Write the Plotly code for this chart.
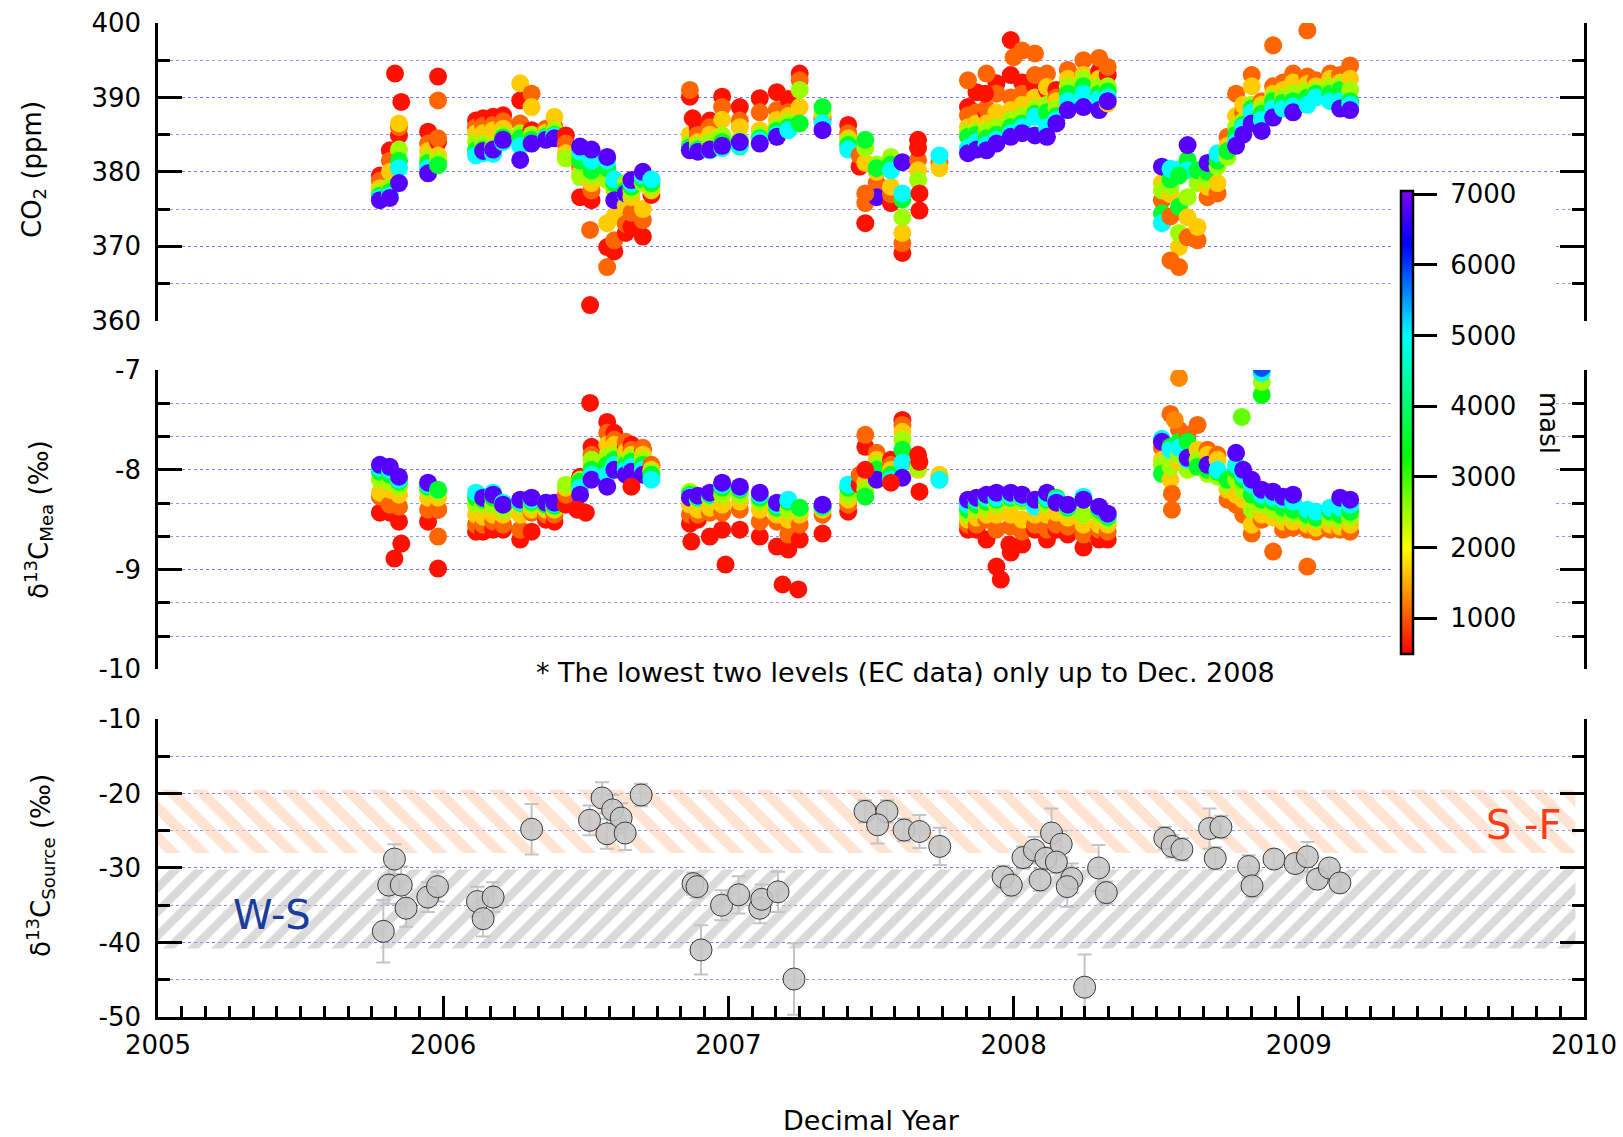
import plotly.graph_objects as go

# ---------------- data ----------------
LEVELS = [600, 1100, 1700, 2500, 3600, 5000, 6800]   # masl of the profile levels

# campaign a (autumn 2005 - summer 2006)
dates_a = [2005.778, 2005.813, 2005.845, 2005.947, 2005.982, 2006.115, 2006.140, 2006.175,
           2006.210, 2006.270, 2006.310, 2006.360, 2006.390, 2006.430, 2006.480, 2006.520,
           2006.575, 2006.600, 2006.640, 2006.660, 2006.700, 2006.730]
co2_a = [
    [379.5, 378.8, 377.8, 377.2, 376.8, 376.5, 376.2],
    [382.9, 381.5, 380.0, 378.0, 377.3, 376.8, 376.5],
    [384.9, 386.0, 386.5, 383.0, 381.5, 380.5, 378.5],
    [385.4, 383.8, 382.8, 381.8, 381.2, 380.5, 379.8],
    [384.0, 384.5, 382.2, 381.5, 380.9, None, None],
    [386.9, 386.0, 385.2, 384.0, 382.9, 382.2, None],
    [387.2, 386.2, 385.2, 383.8, 383.0, 382.5, 382.8],
    [387.4, 386.3, 385.6, 383.4, 383.0, 382.4, 383.0],
    [387.6, 386.8, 385.8, 385.0, 384.6, 384.0, 384.3],
    [389.6, 386.5, 391.9, 385.2, 384.5, 383.5, 381.6],
    [385.6, 390.5, 388.7, 385.0, 384.3, 383.8, 383.8],
    [385.6, 385.8, 385.3, 385.0, 384.7, 384.5, 384.3],
    [385.4, 386.0, 387.4, 385.6, 385.0, 384.8, 384.5],
    [384.9, 383.8, 382.5, 381.8, None, None, None],
    [376.6, 380.7, 379.8, 379.3, 381.5, 382.7, 383.4],
    [376.2, 377.5, 378.5, 379.5, 380.2, 381.5, 383.0],
    [369.9, 367.2, 373.1, 378.9, 380.5, 381.5, 382.0],
    [369.3, 370.8, 374.0, 377.5, 378.5, 379.0, 376.2],
    [371.8, 373.0, 375.5, 378.5, 377.5, 377.0, 377.1],
    [372.6, 374.5, 376.6, 377.5, 378.0, 378.5, 378.9],
    [371.3, 373.5, 375.0, 378.5, 379.0, 379.5, 380.0],
    [376.9, 378.9, 377.5, 378.0, 378.5, 379.0, None],
]
d13_a = [
    [-8.43, -8.27, -8.23, -8.10, -8.02, -7.98, -7.95],
    [-8.43, -8.35, -8.20, -8.12, -8.05, -8.00, -7.97],
    [-8.52, -8.37, -8.25, -8.17, -8.12, -8.10, -8.07],
    [-8.52, -8.40, -8.28, -8.20, -8.17, -8.15, -8.13],
    [-8.40, -8.40, -8.28, -8.22, -8.20, None, None],
    [-8.62, -8.55, -8.45, -8.35, -8.28, -8.23, None],
    [-8.62, -8.55, -8.47, -8.35, -8.30, -8.27, -8.28],
    [-8.60, -8.52, -8.45, -8.35, -8.28, -8.23, -8.25],
    [-8.60, -8.55, -8.45, -8.40, -8.35, -8.33, -8.35],
    [-8.70, -8.60, -8.45, -8.35, -8.33, -8.32, -8.30],
    [-8.62, -8.43, -8.40, -8.35, -8.32, -8.30, -8.28],
    [-8.50, -8.45, -8.40, -8.37, -8.35, -8.33, -8.33],
    [-8.52, -8.45, -8.40, -8.38, -8.36, -8.34, -8.33],
    [-8.35, -8.25, -8.18, -8.15, None, None, None],
    [-8.07, -8.15, -8.12, -8.10, -8.12, -8.18, -8.25],
    [-7.77, -7.85, -7.95, -7.90, -8.00, -8.05, -8.10],
    [-7.52, -7.63, -7.75, -7.87, -7.95, -8.05, -8.17],
    [-7.63, -7.70, -7.75, -7.85, -7.90, -7.95, -8.00],
    [-7.77, -7.72, -7.82, -7.90, -7.95, -8.00, -8.05],
    [-7.75, -7.80, -7.85, -7.88, -7.92, -7.97, -8.02],
    [-7.80, -7.78, -7.85, -7.90, -7.95, -8.00, -8.05],
    [-7.97, -7.95, -8.00, -8.02, -8.05, -8.10, None],
]

# campaign b (winter 2006/07 - summer 2007)
dates_b = [2006.865, 2006.893, 2006.935, 2006.978, 2007.040, 2007.110, 2007.170, 2007.210,
           2007.250, 2007.330, 2007.420, 2007.460, 2007.480, 2007.520, 2007.570, 2007.610,
           2007.665, 2007.740]
co2_b = [
    [390.1, 391.0, 385.0, 383.8, 383.3, 383.0, 382.9],
    [385.9, 385.0, 384.0, 383.5, 383.0, 382.8, 382.7],
    [386.9, 386.0, 385.0, 384.0, 383.0, 382.9, 383.0],
    [390.1, 388.7, 387.0, 384.9, 384.0, 383.2, 383.5],
    [388.7, 386.9, 386.0, 384.3, 383.4, 383.5, 384.0],
    [389.9, 388.0, 385.6, 385.0, 384.5, 384.2, 383.8],
    [390.7, 388.3, 387.0, 386.0, 385.5, 385.0, 384.7],
    [389.8, 388.0, 387.5, 386.7, 386.0, 385.6, None],
    [393.2, 392.3, 388.7, 391.0, 386.5, None, None],
    [387.0, 387.4, 387.8, 388.2, 388.7, 386.5, 385.6],
    [386.3, 385.2, 384.5, 384.0, 383.6, 383.0, None],
    [380.7, 382.2, None, None, None, None, None],
    [373.1, 375.8, 381.2, 383.2, 384.3, None, None],
    [None, 378.5, 380.0, 381.0, 380.5, None, 376.6],
    [375.8, 377.0, 378.0, 382.0, 381.0, 380.2, None],
    [369.1, 370.4, 371.8, 373.9, 376.3, 377.1, 381.3],
    [384.3, 381.6, 380.2, 378.9, None, None, None],
    [None, 381.3, 380.5, None, None, 382.2, None],
]
d13_b = [
    [-8.54, -8.45, -8.35, -8.22, -8.25, -8.27, -8.28],
    [-8.50, -8.45, -8.40, -8.30, -8.28, -8.27, -8.26],
    [-8.67, -8.43, -8.38, -8.28, -8.25, -8.24, -8.23],
    [-8.60, -8.43, -8.35, -8.25, -8.18, -8.15, -8.13],
    [-8.60, -8.40, -8.32, -8.25, -8.20, -8.18, -8.17],
    [-8.67, -8.52, -8.40, -8.32, -8.28, -8.25, -8.23],
    [-8.77, -8.52, -8.45, -8.40, -8.38, -8.35, -8.33],
    [-8.80, -8.65, -8.50, -8.40, -8.32, -8.30, None],
    [-8.70, -8.55, -8.45, -8.40, -8.38, None, None],
    [-8.64, -8.45, -8.40, -8.38, -8.37, -8.36, -8.35],
    [-8.42, -8.35, -8.30, -8.25, -8.18, -8.15, None],
    [-8.15, -8.05, None, None, None, None, None],
    [-7.77, -7.65, -8.13, -8.20, -8.27, None, None],
    [None, -7.83, -7.90, -7.95, -8.00, None, -8.10],
    [-7.90, -7.95, -8.00, -8.05, -8.05, -8.10, None],
    [-7.50, -7.55, -7.62, -7.70, -7.80, -7.93, -8.08],
    [-7.85, -7.95, -8.00, -7.98, None, None, None],
    [None, -8.07, -8.05, -8.10, None, -8.10, None],
]

# campaign c (winter 2007/08)
dates_c = [2007.840, 2007.870, 2007.905, 2007.940, 2007.990, 2008.030, 2008.075, 2008.117,
           2008.150, 2008.190, 2008.245, 2008.300, 2008.330]
co2_c = [
    [388.7, 387.6, 386.0, 385.3, 384.7, 383.2, 382.5],
    [390.7, 388.0, 386.5, 385.5, 385.0, 384.0, 383.0],
    [387.9, 388.5, 386.5, 385.5, 384.5, 383.6, 382.9],
    [391.9, 390.5, 388.0, 386.0, 385.0, 384.3, 383.8],
    [393.0, 390.0, 388.3, 387.0, 386.0, 385.2, 384.7],
    [392.0, 390.5, 389.0, 387.5, 386.5, 386.0, 385.2],
    [391.5, 393.0, 390.0, 388.5, 387.8, 387.4, 384.9],
    [391.0, 393.2, 391.4, 389.0, 388.0, 386.0, 384.7],
    [391.0, 390.0, 389.5, 388.5, 387.5, 387.0, 386.5],
    [392.0, 393.7, 392.5, 391.5, 390.5, 389.5, 388.3],
    [393.0, 395.0, 393.0, 392.5, 391.5, 390.5, 388.7],
    [393.5, 395.3, 392.5, 391.5, 390.5, 389.8, 388.3],
    [393.0, 394.1, 389.2, 391.5, 390.8, 390.0, 389.5],
]
d13_c = [
    [-8.60, -8.55, -8.50, -8.45, -8.40, -8.35, -8.30],
    [-8.60, -8.55, -8.48, -8.40, -8.35, -8.30, -8.28],
    [-8.70, -8.50, -8.45, -8.38, -8.32, -8.28, -8.25],
    [-8.97, -8.60, -8.45, -8.35, -8.30, -8.28, -8.23],
    [-8.83, -8.57, -8.45, -8.30, -8.28, -8.26, -8.23],
    [-8.75, -8.62, -8.50, -8.32, -8.28, -8.27, -8.25],
    [-8.60, -8.55, -8.45, -8.30, -8.32, -8.37, -8.30],
    [-8.70, -8.60, -8.45, -8.35, -8.30, -8.28, -8.23],
    [-8.60, -8.55, -8.43, -8.30, -8.28, -8.30, -8.33],
    [-8.65, -8.57, -8.48, -8.40, -8.38, -8.36, -8.35],
    [-8.78, -8.65, -8.55, -8.45, -8.30, -8.27, -8.30],
    [-8.70, -8.60, -8.55, -8.45, -8.40, -8.38, -8.37],
    [-8.70, -8.62, -8.55, -8.50, -8.47, -8.45, -8.44],
]

# campaign d (summer 2008 - early 2009)
dates_d = [2008.520, 2008.550, 2008.580, 2008.610, 2008.645, 2008.680, 2008.715, 2008.750,
           2008.780, 2008.805, 2008.835, 2008.870, 2008.910, 2008.945, 2008.980, 2009.030,
           2009.060, 2009.110, 2009.145, 2009.180]
co2_d = [
    [None, 376.2, 378.5, 377.5, 374.4, 373.1, 380.7],
    [None, 374.0, 377.0, 378.0, 379.0, 380.4, None],
    [None, 367.2, 369.9, 371.8, 375.3, 380.3, None],
    [None, 371.2, 373.9, 376.6, 381.6, 380.2, 383.6],
    [None, 370.8, 372.6, 378.5, 380.2, None, None],
    [None, 376.6, 378.0, 379.0, 380.0, None, 381.2],
    [None, 377.1, 378.5, 380.7, 381.5, 382.5, None],
    [None, 384.7, 383.5, 382.0, 382.8, None, None],
    [None, 390.5, 387.5, 386.0, 385.0, 384.0, 383.5],
    [None, 388.0, 389.0, 386.8, 386.3, 386.0, 385.0],
    [None, 393.0, 391.5, 389.0, 388.5, 388.0, 386.5],
    [None, 389.5, 389.0, 388.5, 387.8, 387.0, 385.5],
    [None, 391.5, 390.5, 390.0, 389.5, 388.5, 387.3],
    [None, 392.0, 391.0, 390.0, 389.3, 388.5, None],
    [None, 393.2, 392.0, 390.5, 389.5, 388.8, 388.0],
    [None, 392.8, 391.8, 391.0, 390.0, 389.0, None],
    [None, 392.3, 391.5, 391.0, 390.5, 390.0, None],
    [None, 393.2, 392.5, 391.5, 390.5, 389.5, None],
    [None, 393.0, 392.0, 391.5, 391.0, 389.5, 388.5],
    [None, 394.3, 392.5, 391.0, 389.5, 389.0, 388.3],
]
d13_d = [
    [None, -7.78, -7.90, -7.95, -8.04, -7.69, -7.72],
    [None, -7.44, -8.10, -7.97, -7.77, -7.80, None],
    [None, -7.60, -7.92, -7.85, -7.72, -7.78, None],
    [None, -7.65, -7.95, -8.00, -7.72, -7.90, -7.88],
    [None, -7.55, -7.80, -7.90, -7.97, None, None],
    [None, -7.80, -7.85, -8.04, -8.00, None, -7.95],
    [None, -7.85, -7.90, -8.07, -8.02, -8.00, None],
    [None, -8.30, -8.20, -8.15, -8.10, None, None],
    [None, -8.35, -8.25, -8.10, -8.00, -7.95, -7.83],
    [None, -8.45, -8.30, -8.20, -8.10, -8.05, -8.00],
    [None, -8.64, -8.55, -8.40, -8.25, -8.15, -8.10],
    [None, -8.50, -8.45, -8.35, -8.30, -8.25, -8.20],
    [None, -8.82, -8.48, -8.40, -8.32, -8.28, -8.22],
    [None, -8.60, -8.52, -8.45, -8.38, -8.30, -8.27],
    [None, -8.58, -8.52, -8.45, -8.40, -8.32, -8.25],
    [None, -8.60, -8.55, -8.50, -8.45, -8.40, None],
    [None, -8.62, -8.58, -8.50, -8.48, -8.42, None],
    [None, -8.60, -8.55, -8.48, -8.42, -8.38, None],
    [None, -8.60, -8.57, -8.50, -8.45, -8.38, -8.28],
    [None, -8.62, -8.55, -8.48, -8.42, -8.35, -8.30],
]

# isolated samples
extra_co2_x = [2005.831, 2005.853, 2005.982, 2005.982, 2006.515, 2006.515, 2006.875, 2007.480,
               2007.670, 2007.670, 2007.665, 2007.840, 2007.905, 2007.900, 2007.990, 2008.000,
               2008.030, 2008.075, 2008.550, 2008.580, 2008.910, 2009.030]
extra_co2_y = [393.2, 389.4, 392.8, 389.6, 372.2, 362.1, 387.2, 377.1,
               377.1, 374.8, 383.2, 392.3, 393.2, 390.5, 397.7, 395.4,
               396.3, 395.9, 368.1, 379.5, 397.0, 399.0]
extra_co2_alt = [600, 600, 600, 1100, 1100, 600, 600, 1100,
                 600, 600, 600, 1100, 1100, 600, 600, 1100,
                 1100, 1100, 1100, 3600, 1100, 1100]

extra_d13_x = [2005.829, 2005.853, 2005.982, 2005.982, 2006.515, 2006.500, 2006.660, 2006.470,
               2006.870, 2006.990, 2007.190, 2007.245, 2007.480, 2007.570, 2007.670, 2007.670,
               2007.955, 2007.985, 2008.555, 2008.555, 2008.565, 2008.580, 2008.800, 2008.870,
               2008.870, 2008.870, 2008.870, 2009.030]
extra_d13_y = [-8.89, -8.74, -8.67, -8.99, -7.33, -8.43, -8.17, -8.40,
               -8.72, -8.95, -9.15, -9.20, -8.00, -8.13, -8.22, -7.92,
               -9.10, -8.75, -8.24, -8.40, -7.50, -7.08, -7.47, -7.25,
               -7.12, -7.03, -6.98, -8.97]
extra_d13_alt = [600, 600, 1100, 600, 600, 600, 600, 600,
                 600, 600, 600, 600, 600, 600, 600, 600,
                 600, 600, 1100, 1100, 1300, 1300, 2800, 3300,
                 2500, 4800, 5900, 1100]

# source signature (bottom panel)
src_x = [2005.829, 2005.809, 2005.853, 2005.870, 2005.790, 2005.946, 2005.980, 2006.120,
         2006.175, 2006.140, 2006.310, 2006.557, 2006.513, 2006.594, 2006.624, 2006.574,
         2006.638, 2006.694, 2006.876, 2006.890, 2006.976, 2007.036, 2007.110, 2007.117,
         2007.174, 2006.904, 2007.230, 2007.479, 2007.556, 2007.523, 2007.616, 2007.670,
         2007.741, 2007.963, 2007.992, 2008.033, 2008.073, 2008.093, 2008.113, 2008.133,
         2008.167, 2008.150, 2008.204, 2008.188, 2008.298, 2008.325, 2008.249, 2008.530,
         2008.556, 2008.590, 2008.687, 2008.727, 2008.707, 2008.824, 2008.836, 2008.913,
         2008.987, 2009.030, 2009.065, 2009.107, 2009.144]
src_y = [-28.8, -32.3, -32.3, -35.4, -38.5, -33.9, -32.5, -34.5,
         -33.9, -36.8, -24.8, -20.6, -23.6, -22.2, -23.3, -25.4,
         -25.3, -20.2, -32.1, -32.5, -35.0, -33.6, -35.4, -34.2,
         -33.2, -41.0, -44.9, -22.4, -22.4, -24.2, -24.9, -25.1,
         -27.1, -31.2, -32.3, -28.6, -27.6, -31.6, -28.7, -25.3,
         -26.8, -29.2, -31.4, -32.5, -30.0, -33.3, -46.0, -26.0,
         -27.1, -27.5, -24.7, -24.5, -28.7, -29.8, -32.4, -28.8,
         -29.4, -28.5, -31.5, -30.0, -32.0]
src_err = [2.0, 2.5, 2.5, 2.5, 4.2, 2.0, 2.0, 2.0,
           2.0, 2.4, 3.4, 2.1, 2.0, 2.0, 2.0, 2.0,
           2.3, 1.5, 1.5, 1.5, 2.0, 2.5, 2.0, 2.0,
           2.7, 3.3, 4.8, 1.5, 1.5, 2.5, 1.5, 2.2,
           2.5, 1.5, 1.5, 1.5, 1.8, 1.5, 1.5, 3.3,
           1.8, 1.5, 2.0, 2.7, 3.1, 1.5, 4.4, 1.5,
           1.5, 1.5, 2.7, 1.5, 1.5, 1.5, 1.5, 1.2,
           1.2, 2.0, 1.2, 1.2, 1.2]

# source-signature ranges (hatched bands)
sf_range = (-28.0, -19.5)     # S-F
ws_range = (-40.8, -30.2)     # W-S
band_years = (2005.0, 2009.97)

x_ticks = [2005, 2006, 2007, 2008, 2009, 2010]
co2_ticks = [360, 370, 380, 390, 400]
d13_ticks = [-10, -9, -8, -7]
src_ticks = [-50, -40, -30, -20, -10]
alt_ticks = [1000, 2000, 3000, 4000, 5000, 6000, 7000]


# ---------------- build ----------------
def expand(date_lists, row_lists):
    xs, ys, cs = [], [], []
    for dates, rows in zip(date_lists, row_lists):
        for d, row in zip(dates, rows):
            for alt, v in zip(LEVELS, row):
                if v is not None:
                    xs.append(d)
                    ys.append(v)
                    cs.append(alt)
    return xs, ys, cs


co2_x, co2_y, co2_col = expand([dates_a, dates_b, dates_c, dates_d], [co2_a, co2_b, co2_c, co2_d])
co2_x += extra_co2_x
co2_y += extra_co2_y
co2_col += extra_co2_alt
d13_x, d13_y, d13_col = expand([dates_a, dates_b, dates_c, dates_d], [d13_a, d13_b, d13_c, d13_d])
d13_x += extra_d13_x
d13_y += extra_d13_y
d13_col += extra_d13_alt

CMIN, CMAX = 500, 7050


def frac(v):
    return (v - CMIN) / (CMAX - CMIN)


colorscale = [[0.0, '#ff0000'], [frac(2000), '#ffff00'], [frac(3300), '#00ff00'],
              [frac(5000), '#00ffff'], [frac(6300), '#0000ff'], [1.0, '#8000ff']]

FONT = 'DejaVu Sans'
GRID = 'rgba(110,110,255,0.75)'

fig = go.Figure()

# hatched bands
fig.add_trace(go.Scatter(
    x=[band_years[0], band_years[1], band_years[1], band_years[0], band_years[0]],
    y=[sf_range[1], sf_range[1], sf_range[0], sf_range[0], sf_range[1]],
    mode='lines', fill='toself', line=dict(width=0, color='rgba(0,0,0,0)'),
    fillcolor='rgba(0,0,0,0)',
    fillpattern=dict(shape='\\', fgcolor='#ffcaa8', size=21, solidity=0.5),
    xaxis='x', yaxis='y', hoverinfo='skip', showlegend=False))
fig.add_trace(go.Scatter(
    x=[band_years[0], band_years[1], band_years[1], band_years[0], band_years[0]],
    y=[ws_range[1], ws_range[1], ws_range[0], ws_range[0], ws_range[1]],
    mode='lines', fill='toself', line=dict(width=0, color='rgba(0,0,0,0)'),
    fillcolor='rgba(0,0,0,0)',
    fillpattern=dict(shape='/', fgcolor='#b6b6b6', size=17, solidity=0.5),
    xaxis='x', yaxis='y', hoverinfo='skip', showlegend=False))

# source points
fig.add_trace(go.Scatter(
    x=src_x, y=src_y, mode='markers', xaxis='x', yaxis='y',
    marker=dict(size=22, color='rgba(198,198,198,0.88)', line=dict(color='#3a3a3a', width=1)),
    error_y=dict(type='data', array=src_err, visible=True, color='#c4c4c4', thickness=2, width=7),
    showlegend=False))

# CO2
fig.add_trace(go.Scatter(
    x=co2_x, y=co2_y, mode='markers', xaxis='x3', yaxis='y3',
    marker=dict(size=18, color=co2_col, coloraxis='coloraxis', line=dict(width=0)),
    showlegend=False))
# d13C
fig.add_trace(go.Scatter(
    x=d13_x, y=d13_y, mode='markers', xaxis='x2', yaxis='y2',
    marker=dict(size=18, color=d13_col, coloraxis='coloraxis', line=dict(width=0)),
    showlegend=False))


def yax(domain, rng, ticks, dminor, tick0):
    return dict(
        domain=domain, range=rng, tickmode='array', tickvals=ticks,
        ticktext=[str(t) for t in ticks],
        showline=True, linewidth=2.5, linecolor='black', mirror='ticks',
        ticks='inside', ticklen=24, tickwidth=2.5, tickcolor='black',
        showgrid=True, gridcolor=GRID, griddash='dot', gridwidth=1,
        zeroline=False, tickfont=dict(size=26, family=FONT, color='black'),
        ticklabelstandoff=9, automargin=False,
        minor=dict(tickmode='linear', tick0=tick0, dtick=dminor, ticks='inside',
                   ticklen=12, tickwidth=2.5, tickcolor='black',
                   showgrid=True, gridcolor=GRID, griddash='dot', gridwidth=1))


hidden_x = dict(range=[2005, 2010], visible=False, showgrid=False, zeroline=False)

PL, PT, PW, PH = 158, 23, 1426, 994


def px(xp):
    return (xp - PL) / PW


def py(yp):
    return (PT + PH - yp) / PH


NB = '\u00a0'

fig.update_layout(
    width=1623, height=1137,
    margin=dict(l=PL, r=1623 - PL - PW, t=PT, b=1137 - PT - PH, pad=0, autoexpand=False),
    paper_bgcolor='white', plot_bgcolor='white',
    font=dict(family=FONT, color='black', size=26),
    showlegend=False,
    xaxis=dict(range=[2005, 2010], anchor='y', tickmode='array', tickvals=x_ticks,
               ticktext=[str(t) for t in x_ticks],
               showline=True, linewidth=2.5, linecolor='black', mirror=False,
               ticks='inside', ticklen=21, tickwidth=2.5, tickcolor='black',
               showgrid=False, zeroline=False, ticklabelstandoff=3, automargin=False,
               tickfont=dict(size=26, family=FONT, color='black'),
               minor=dict(tickmode='linear', tick0=2005, dtick=1 / 12, ticks='inside',
                          ticklen=11, tickwidth=2.5, tickcolor='black', showgrid=False)),
    xaxis2=dict(hidden_x, anchor='y2'),
    xaxis3=dict(hidden_x, anchor='y3'),
    yaxis=yax([0, 0.2998], [-50, -10], src_ticks, 5, -50),
    yaxis2=yax([0.3498, 0.6509], [-10, -7], d13_ticks, 1 / 3, -10),
    yaxis3=yax([0.7005, 1.0], [360, 400], co2_ticks, 5, 360),
    coloraxis=dict(
        cmin=CMIN, cmax=CMAX, colorscale=colorscale,
        colorbar=dict(
            x=px(1401), xanchor='left', xpad=0, y=py(422), yanchor='middle', ypad=0,
            lenmode='pixels', len=463, thicknessmode='pixels', thickness=12,
            outlinewidth=2.5, outlinecolor='black', bgcolor='rgba(0,0,0,0)',
            ticks='outside', ticklen=23, tickwidth=2.5, tickcolor='black',
            tickmode='array', tickvals=alt_ticks, ticktext=[NB + str(t) for t in alt_ticks],
            tickfont=dict(size=26, family=FONT, color='black'))),
)

# white masks (colorbar area and note area)
fig.add_shape(type='rect', xref='paper', yref='paper',
              x0=px(1393), x1=px(1556), y0=py(671), y1=py(175),
              fillcolor='white', line=dict(width=0), layer='above')
fig.add_shape(type='rect', xref='paper', yref='paper',
              x0=px(532), x1=px(1280), y0=py(725), y1=py(649),
              fillcolor='white', line=dict(width=0), layer='above')

ann = []
ann.append(dict(text='CO<sub>2</sub> (ppm)', x=px(33), y=py(170), textangle=-90,
                font=dict(size=26)))
ann.append(dict(text='δ<sup>13</sup>C<sub>Mea</sub> (‰)', x=px(38), y=py(520), textangle=-90,
                font=dict(size=26)))
ann.append(dict(text='δ<sup>13</sup>C<sub>Source</sub> (‰)', x=px(40), y=py(866), textangle=-90,
                font=dict(size=26)))
ann.append(dict(text='Decimal Year', x=px(871), y=py(1120), font=dict(size=27)))
ann.append(dict(text='* The lowest two levels (EC data) only up to Dec. 2008',
                x=px(905), y=py(672), font=dict(size=27)))
ann.append(dict(text='masl', x=px(1549), y=py(423), textangle=90, font=dict(size=26)))
for a in ann:
    a.update(xref='paper', yref='paper', showarrow=False, xanchor='center', yanchor='middle')
ann.append(dict(text='W-S', x=2005.4, y=-36.3, xref='x', yref='y', showarrow=False,
                font=dict(size=40, color='#1a3c9c'), xanchor='center', yanchor='middle'))
ann.append(dict(text='S -F', x=2009.79, y=-24.2, xref='x', yref='y', showarrow=False,
                font=dict(size=40, color='#ff3c18'), xanchor='center', yanchor='middle'))
fig.update_layout(annotations=ann)

fig.write_html('out.html')
